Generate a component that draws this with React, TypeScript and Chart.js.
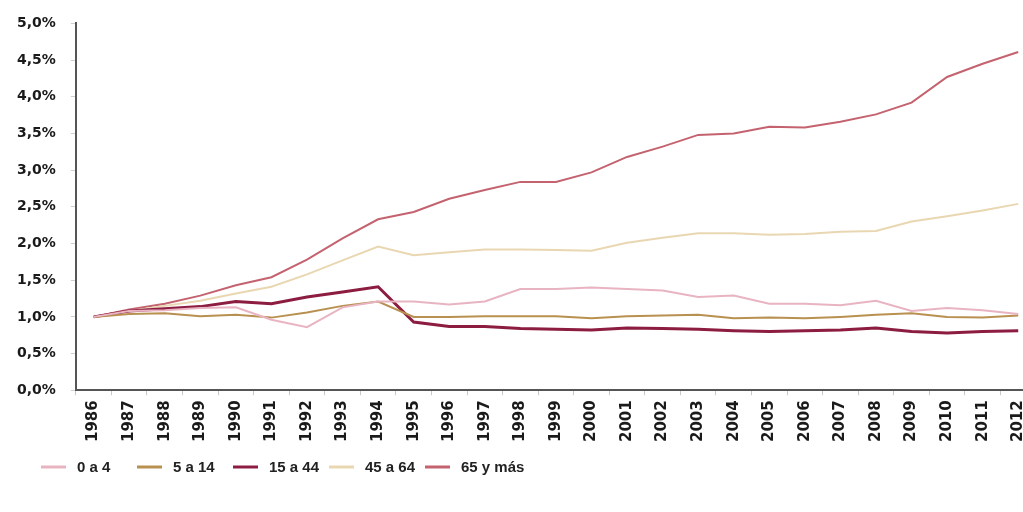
import React, { useEffect, useRef } from "react";
import { Chart, registerables } from "chart.js";

Chart.register(...registerables);

// Annual series by age group (percent)
const years = [
  "1986", "1987", "1988", "1989", "1990", "1991", "1992", "1993", "1994",
  "1995", "1996", "1997", "1998", "1999", "2000", "2001", "2002", "2003",
  "2004", "2005", "2006", "2007", "2008", "2009", "2010", "2011", "2012",
];

const edad0a4 = [
  1.0, 1.08, 1.09, 1.12, 1.13, 0.96, 0.86, 1.13, 1.21, 1.21, 1.17, 1.21, 1.38,
  1.38, 1.4, 1.38, 1.36, 1.27, 1.29, 1.18, 1.18, 1.16, 1.22, 1.08, 1.12, 1.09,
  1.04,
];

const edad5a14 = [
  1.0, 1.04, 1.05, 1.01, 1.03, 0.99, 1.06, 1.15, 1.21, 1.0, 1.0, 1.01, 1.01,
  1.01, 0.98, 1.01, 1.02, 1.03, 0.98, 0.99, 0.98, 1.0, 1.03, 1.05, 1.0, 0.99,
  1.02,
];

const edad15a44 = [
  1.0, 1.08, 1.11, 1.14, 1.21, 1.18, 1.27, 1.34, 1.41, 0.93, 0.87, 0.87, 0.84,
  0.83, 0.82, 0.85, 0.84, 0.83, 0.81, 0.8, 0.81, 0.82, 0.85, 0.8, 0.78, 0.8,
  0.81,
];

const edad45a64 = [
  1.0, 1.08, 1.15, 1.22, 1.32, 1.41, 1.58, 1.77, 1.96, 1.84, 1.88, 1.92, 1.92,
  1.91, 1.9, 2.01, 2.08, 2.14, 2.14, 2.12, 2.13, 2.16, 2.17, 2.3, 2.37, 2.45,
  2.54,
];

const edad65mas = [
  1.0, 1.1, 1.18, 1.29, 1.43, 1.54, 1.78, 2.07, 2.33, 2.43, 2.61, 2.73, 2.84,
  2.84, 2.97, 3.18, 3.32, 3.48, 3.5, 3.59, 3.58, 3.66, 3.76, 3.92, 4.27, 4.45,
  4.61,
];

const seriesNames = ["0 a 4", "5 a 14", "15 a 44", "45 a 64", "65 y más"];
const seriesColors = ["#e8b4c2", "#b89050", "#8c1c40", "#e9d7b2", "#c4636f"];
const seriesWidths = [2, 2, 3, 2, 2];

const formatPct = (v: number) => v.toFixed(1).replace(".", ",") + "%";

// Legend drawn below the axis labels, items on a fixed pitch
const bottomLegend = {
  id: "bottomLegend",
  afterDraw(chart: any) {
    const ctx = chart.ctx as CanvasRenderingContext2D;
    const y = 467;
    ctx.save();
    ctx.font = "bold 15px 'Liberation Sans Narrow', 'Liberation Sans', sans-serif";
    ctx.textBaseline = "middle";
    ctx.textAlign = "left";
    chart.data.datasets.forEach((ds: any, i: number) => {
      const x0 = 41 + i * 96;
      ctx.strokeStyle = ds.borderColor;
      ctx.lineWidth = 3;
      ctx.beginPath();
      ctx.moveTo(x0, y);
      ctx.lineTo(x0 + 25, y);
      ctx.stroke();
      ctx.fillStyle = "#222";
      ctx.fillText(ds.label, x0 + 36, y + 1);
    });
    ctx.restore();
  },
};

export default function App() {
  const canvasRef = useRef<HTMLCanvasElement | null>(null);

  useEffect(() => {
    if (!canvasRef.current) return;
    const allSeries = [edad0a4, edad5a14, edad15a44, edad45a64, edad65mas];
    const chart = new Chart(canvasRef.current, {
      type: "line",
      data: {
        labels: years,
        datasets: allSeries.map((values, i) => ({
          label: seriesNames[i],
          data: values,
          borderColor: seriesColors[i],
          backgroundColor: seriesColors[i],
          borderWidth: seriesWidths[i],
          pointRadius: 0,
          tension: 0,
          fill: false,
        })),
      },
      options: {
        responsive: false,
        animation: false,
        layout: { padding: { left: 2, top: 21, right: 10, bottom: 65 } },
        plugins: {
          legend: { display: false },
          tooltip: { enabled: false },
        },
        scales: {
          x: {
            offset: true,
            grid: {
              offset: true,
              drawOnChartArea: false,
              drawTicks: true,
              tickLength: 5,
              color: "#c8c8c8",
            },
            border: { display: true, color: "#555555", width: 2 },
            ticks: {
              autoSkip: false,
              minRotation: 90,
              maxRotation: 90,
              padding: 5,
              color: "#1a1a1a",
              font: { family: "'DejaVu Sans'", size: 15, weight: "bold" },
            },
          },
          y: {
            min: 0,
            max: 5,
            grid: {
              drawOnChartArea: false,
              drawTicks: true,
              tickLength: 5,
              color: "#d0d0d0",
            },
            border: { display: true, color: "#555555", width: 2 },
            ticks: {
              stepSize: 0.5,
              padding: 15,
              color: "#1a1a1a",
              font: { family: "'DejaVu Sans'", size: 14, weight: "bold" },
              callback: (v: any) => formatPct(Number(v)),
            },
          },
        },
      },
      plugins: [bottomLegend],
    });
    return () => chart.destroy();
  }, []);

  return (
    <div
      style={{
        position: "absolute",
        left: 0,
        top: 0,
        width: 1023,
        height: 512,
        overflow: "hidden",
        background: "#ffffff",
      }}
    >
      <canvas
        ref={canvasRef}
        width={1046}
        height={512}
        style={{ width: 1046, height: 512, display: "block" }}
      />
    </div>
  );
}
